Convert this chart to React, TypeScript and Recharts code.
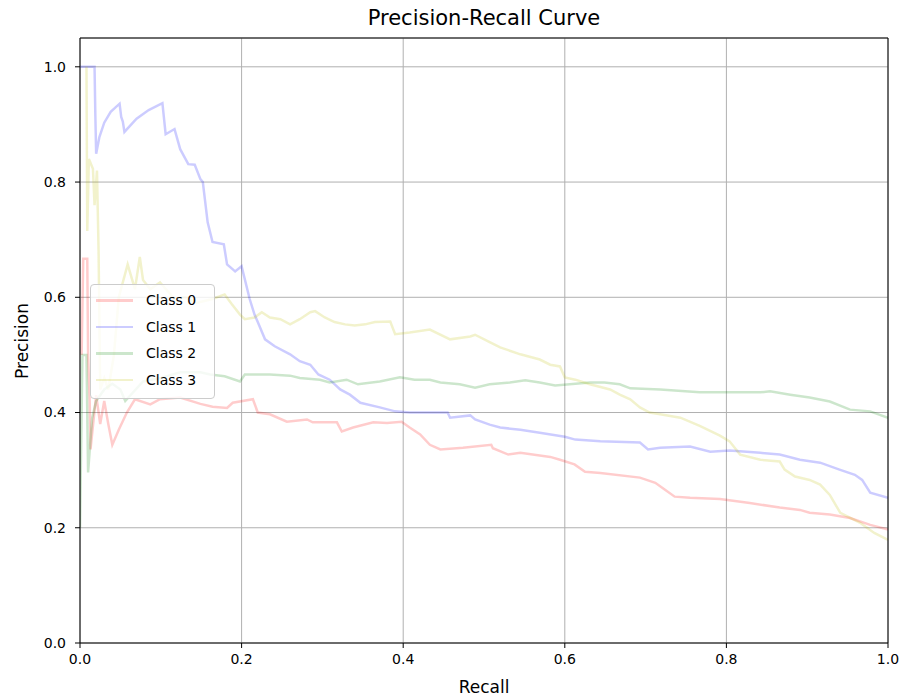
import { LineChart, Line, XAxis, YAxis, CartesianGrid, ReferenceLine } from "recharts";

const TICKS = [0, 0.2, 0.4, 0.6, 0.8, 1.0];

const class0Recall = [0.002, 0.004, 0.009, 0.01, 0.012, 0.013, 0.02, 0.025, 0.03, 0.035, 0.04, 0.048, 0.058, 0.068, 0.087, 0.099, 0.124, 0.149, 0.164, 0.182, 0.189, 0.214, 0.22, 0.235, 0.256, 0.281, 0.288, 0.318, 0.324, 0.338, 0.363, 0.38, 0.398, 0.408, 0.421, 0.433, 0.446, 0.474, 0.509, 0.511, 0.53, 0.545, 0.582, 0.594, 0.612, 0.625, 0.644, 0.693, 0.712, 0.724, 0.736, 0.755, 0.792, 0.829, 0.866, 0.891, 0.903, 0.928, 0.953, 0.978, 1.0];
const class0Precision = [0.5, 0.667, 0.667, 0.5, 0.42, 0.336, 0.43, 0.38, 0.42, 0.38, 0.344, 0.37, 0.4, 0.423, 0.414, 0.423, 0.426, 0.415, 0.41, 0.408, 0.417, 0.423, 0.4, 0.397, 0.384, 0.388, 0.383, 0.383, 0.367, 0.374, 0.383, 0.382, 0.384, 0.374, 0.362, 0.344, 0.336, 0.339, 0.344, 0.338, 0.327, 0.33, 0.323, 0.318, 0.31, 0.297, 0.295, 0.287, 0.278, 0.266, 0.254, 0.252, 0.25, 0.243, 0.235, 0.231, 0.226, 0.223, 0.217, 0.205, 0.197];

const class1Recall = [0, 0.018, 0.019, 0.02, 0.024, 0.03, 0.038, 0.049, 0.051, 0.053, 0.055, 0.07, 0.085, 0.102, 0.106, 0.117, 0.124, 0.134, 0.142, 0.149, 0.152, 0.158, 0.164, 0.178, 0.182, 0.192, 0.2, 0.21, 0.216, 0.22, 0.229, 0.241, 0.26, 0.272, 0.285, 0.295, 0.309, 0.322, 0.334, 0.347, 0.371, 0.39, 0.408, 0.455, 0.458, 0.483, 0.489, 0.507, 0.52, 0.545, 0.569, 0.6, 0.613, 0.644, 0.693, 0.703, 0.718, 0.755, 0.78, 0.804, 0.842, 0.866, 0.891, 0.916, 0.94, 0.959, 0.968, 0.978, 1.0];
const class1Precision = [1.0, 1.0, 0.915, 0.849, 0.878, 0.903, 0.922, 0.936, 0.913, 0.905, 0.887, 0.91, 0.925, 0.937, 0.883, 0.892, 0.857, 0.831, 0.83, 0.805, 0.8, 0.73, 0.696, 0.692, 0.657, 0.645, 0.654, 0.597, 0.57, 0.557, 0.527, 0.515, 0.501, 0.489, 0.483, 0.466, 0.457, 0.44, 0.431, 0.417, 0.409, 0.402, 0.4, 0.4, 0.391, 0.395, 0.388, 0.379, 0.374, 0.37, 0.365, 0.358, 0.353, 0.35, 0.348, 0.336, 0.339, 0.341, 0.332, 0.334, 0.33, 0.327, 0.318, 0.313, 0.301, 0.292, 0.283, 0.261, 0.252];

const class2Recall = [0, 0.003, 0.008, 0.01, 0.015, 0.02, 0.03, 0.04, 0.05, 0.056, 0.078, 0.1, 0.124, 0.149, 0.161, 0.179, 0.198, 0.204, 0.235, 0.26, 0.272, 0.297, 0.309, 0.33, 0.344, 0.371, 0.396, 0.414, 0.433, 0.446, 0.47, 0.489, 0.507, 0.532, 0.551, 0.569, 0.588, 0.606, 0.631, 0.649, 0.668, 0.681, 0.718, 0.767, 0.842, 0.854, 0.879, 0.903, 0.928, 0.953, 0.978, 1.0];
const class2Precision = [0.2, 0.5, 0.5, 0.296, 0.39, 0.42, 0.44, 0.45, 0.44, 0.42, 0.454, 0.46, 0.47, 0.47, 0.466, 0.463, 0.454, 0.466, 0.466, 0.464, 0.46, 0.457, 0.452, 0.457, 0.449, 0.454, 0.461, 0.457, 0.457, 0.452, 0.449, 0.443, 0.449, 0.452, 0.456, 0.452, 0.447, 0.449, 0.452, 0.452, 0.449, 0.442, 0.44, 0.435, 0.435, 0.437, 0.431, 0.426, 0.419, 0.405, 0.402, 0.391];

const class3Recall = [0.008, 0.009, 0.011, 0.016, 0.018, 0.021, 0.023, 0.025, 0.03, 0.035, 0.042, 0.048, 0.059, 0.068, 0.074, 0.078, 0.087, 0.099, 0.117, 0.13, 0.144, 0.164, 0.179, 0.188, 0.198, 0.204, 0.216, 0.225, 0.235, 0.248, 0.26, 0.272, 0.285, 0.291, 0.303, 0.315, 0.328, 0.34, 0.353, 0.365, 0.384, 0.39, 0.408, 0.433, 0.458, 0.483, 0.489, 0.507, 0.52, 0.545, 0.569, 0.582, 0.594, 0.6, 0.613, 0.631, 0.656, 0.668, 0.681, 0.693, 0.705, 0.718, 0.743, 0.767, 0.792, 0.804, 0.817, 0.842, 0.866, 0.872, 0.885, 0.903, 0.916, 0.928, 0.935, 0.941, 0.965, 0.983, 1.0];
const class3Precision = [1.0, 0.715, 0.84, 0.823, 0.76, 0.82, 0.68, 0.44, 0.46, 0.44, 0.5, 0.6, 0.657, 0.614, 0.67, 0.63, 0.614, 0.626, 0.597, 0.6, 0.59, 0.597, 0.605, 0.588, 0.57, 0.562, 0.565, 0.574, 0.565, 0.562, 0.553, 0.562, 0.574, 0.576, 0.565, 0.557, 0.553, 0.551, 0.553, 0.557, 0.558, 0.536, 0.539, 0.544, 0.527, 0.532, 0.535, 0.522, 0.513, 0.501, 0.492, 0.483, 0.48, 0.461, 0.457, 0.449, 0.44, 0.431, 0.423, 0.409, 0.4, 0.397, 0.391, 0.377, 0.36, 0.35, 0.327, 0.318, 0.315, 0.301, 0.289, 0.283, 0.275, 0.257, 0.24, 0.226, 0.209, 0.191, 0.179];

const FONT = "'DejaVu Sans', sans-serif";

function zip(recall: number[], precision: number[]) {
  return recall.map((r, i) => ({ r, p: precision[i] }));
}

const SERIES = [
  { name: "Class 0", color: "#ff0000", data: zip(class0Recall, class0Precision) },
  { name: "Class 1", color: "#0000ff", data: zip(class1Recall, class1Precision) },
  { name: "Class 2", color: "#008000", data: zip(class2Recall, class2Precision) },
  { name: "Class 3", color: "#bfbf00", data: zip(class3Recall, class3Precision) },
];

// matplotlib-style legend box, placed over the plot
function LegendBox() {
  return (
    <div
      style={{
        position: "absolute",
        left: 90,
        top: 284,
        width: 123,
        height: 111,
        paddingTop: 2,
        background: "rgba(255,255,255,0.8)",
        border: "1px solid #cccccc",
        borderRadius: 4,
        fontFamily: FONT,
        fontSize: 14,
        color: "#000",
      }}
    >
      {SERIES.map((s) => (
        <div key={s.name} style={{ height: 26.5, display: "flex", alignItems: "center" }}>
          <span
            style={{
              display: "inline-block",
              marginLeft: 5,
              width: 37,
              height: 2.5,
              background: s.color,
              opacity: 0.2,
            }}
          />
          <span style={{ marginLeft: 13 }}>{s.name}</span>
        </div>
      ))}
    </div>
  );
}

const tickStyle = { fill: "#000", fontSize: 14, fontFamily: FONT };

export default function App() {
  return (
    <div style={{ position: "absolute", left: 0, top: 0, width: 905, height: 699, background: "#fff" }}>
      <LineChart width={905} height={699} margin={{ top: 38, right: 17, bottom: 0, left: 0 }}>
        <CartesianGrid stroke="#b0b0b0" strokeWidth={1} />
        <XAxis
          type="number"
          dataKey="r"
          domain={[0, 1]}
          ticks={TICKS}
          tickFormatter={(v: number) => v.toFixed(1)}
          height={56}
          tick={tickStyle}
          tickSize={5}
          tickMargin={6}
          stroke="#000"
          allowDataOverflow
        />
        <YAxis
          type="number"
          dataKey="p"
          domain={[0, 1.05]}
          ticks={TICKS}
          tickFormatter={(v: number) => v.toFixed(1)}
          width={80}
          tick={tickStyle}
          tickSize={5}
          tickMargin={9}
          stroke="#000"
          allowDataOverflow
        />
        {SERIES.map((s) => (
          <Line
            key={s.name}
            data={s.data}
            dataKey="p"
            name={s.name}
            type="linear"
            stroke={s.color}
            strokeOpacity={0.2}
            strokeWidth={2.5}
            dot={false}
            activeDot={false}
            isAnimationActive={false}
          />
        ))}
        <ReferenceLine y={1.05} stroke="#000" strokeWidth={1} />
        <ReferenceLine x={1} stroke="#000" strokeWidth={1} />
      </LineChart>
      <LegendBox />
      <div
        style={{
          position: "absolute",
          left: 80,
          width: 808,
          top: 6,
          textAlign: "center",
          fontFamily: FONT,
          fontSize: 21,
          color: "#000",
        }}
      >
        Precision-Recall Curve
      </div>
      <div
        style={{
          position: "absolute",
          left: 80,
          width: 808,
          top: 677,
          textAlign: "center",
          fontFamily: FONT,
          fontSize: 17,
          color: "#000",
        }}
      >
        Recall
      </div>
      <div
        style={{
          position: "absolute",
          left: 22,
          top: 341,
          transform: "translate(-50%, -50%) rotate(-90deg)",
          fontFamily: FONT,
          fontSize: 17,
          color: "#000",
          whiteSpace: "nowrap",
        }}
      >
        Precision
      </div>
    </div>
  );
}
